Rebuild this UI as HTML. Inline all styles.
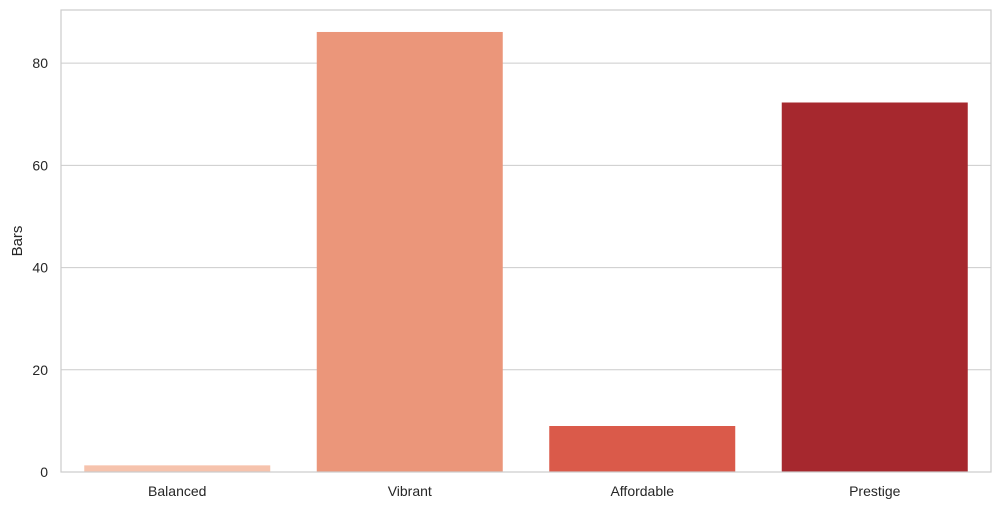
<!DOCTYPE html>
<html><head><meta charset="utf-8"><style>
body{margin:0;background:#fff;}
svg{display:block;font-family:"Liberation Sans","DejaVu Sans",sans-serif;}
</style></head><body>
<svg id="chart" width="1000" height="509">
<rect x="0" y="0" width="1000" height="509" fill="#fff"/>
<g id="grid"></g><g id="bars"></g><g id="axes"></g>
</svg>
<script>
const categories=["Balanced","Vibrant","Affordable","Prestige"];
const values=[1.3,86.1,9.0,72.3];
const colors=["#f6c3ad","#eb967a","#da5a4a","#a6282e"];
const yTicks=[0,20,40,60,80];
const L=61,R=991,T=10,B=472,yMax=90.4;
const NS="http://www.w3.org/2000/svg";
const y=v=>B-(v/yMax)*(B-T);
const step=(R-L)/categories.length;
const x=i=>L+step*i+step/2;
function mk(tag,attrs,parent,text){const e=document.createElementNS(NS,tag);for(const k in attrs)e.setAttribute(k,attrs[k]);if(text!==undefined)e.textContent=text;document.getElementById(parent).appendChild(e);return e;}
yTicks.forEach(t=>{
 const g=mk("line",{x1:L,x2:R,y1:y(t),y2:y(t),stroke:"#cccccc","stroke-width":1},"grid");
 
 
 const l=mk("text",{x:L-13,y:y(t)+5,"text-anchor":"end","font-size":14,fill:"#262626"},"axes",String(t));
 
 
});
categories.forEach((c,i)=>{
 const w=step*0.8;
 const r=mk("rect",{x:x(i)-w/2,y:y(values[i]),width:w,height:B-y(values[i]),fill:colors[i]},"bars");
 
 
 const l=mk("text",{x:x(i),y:B+24,"text-anchor":"middle","font-size":14,fill:"#262626"},"axes",c);
 
 
});
const f=mk("rect",{x:L,y:T,width:R-L,height:B-T,fill:"none",stroke:"#cccccc","stroke-width":1.2},"axes");


const yt=mk("text",{x:22,y:(T+B)/2,"text-anchor":"middle","font-size":15,fill:"#262626",transform:"rotate(-90 22 "+((T+B)/2)+")"},"axes","Bars");


</script>
</body></html>
